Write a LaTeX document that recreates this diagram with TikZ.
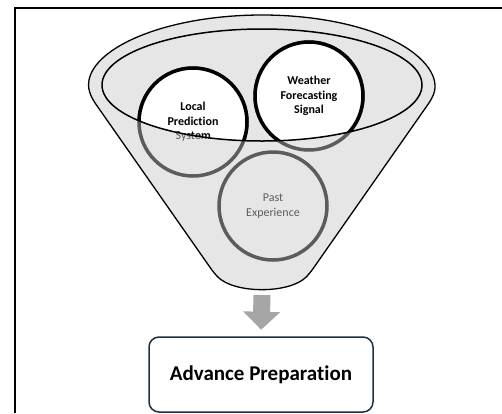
\documentclass[tikz,border=0pt]{standalone}
\usepackage{fontspec}
\setmainfont{Carlito}[Ligatures=NoCommon]
\usepackage{tikz}
\usetikzlibrary{arrows.meta}

\definecolor{funnelgray}{HTML}{E6E6E6}
\definecolor{ringgray}{HTML}{5C5C5C}
\definecolor{arrowgray}{HTML}{A6A6A6}
\definecolor{boxnavy}{HTML}{1F2F40}

\begin{document}
\begin{tikzpicture}[x=1pt, y=-1pt,
  ring/.style={circle, minimum size=108pt, inner sep=0pt, line width=3.5pt,
    align=center, font=\fontsize{12}{14.5}\selectfont},
  outring/.style={ring, draw=ringgray, text=ringgray},
  inring/.style={ring, draw=black, text=black, font=\fontsize{12}{14.5}\selectfont\bfseries},
  prepbox/.style={draw=boxnavy, line width=1.5pt, rounded corners=10pt,
    minimum width=224pt, minimum height=75pt, font=\fontsize{21}{24}\selectfont\bfseries}]
\useasboundingbox (0,0) rectangle (502,413);
\draw[line width=2pt] (15,413) -- (15,8) -- (502,8);

% funnel
\filldraw[fill=funnelgray, line width=1.3pt, rounded corners=5pt]
  (92.6,99.5) arc[start angle=170, end angle=370, x radius=172, y radius=72]
  -- (310,273) .. controls (290,294) and (234,294) .. (214,273) -- cycle;
\fill[funnelgray] (262,85) ellipse[x radius=160, y radius=56];

% the three sources
\foreach \nm/\x/\y/\txt in {lps/193/122/{Local\\Prediction\\System},
                            wfs/309/96/{Weather\\Forecasting\\Signal},
                            pe/273/206/{Past\\Experience}}
  \node[outring] (\nm) at (\x,\y) {\txt};

\begin{scope}
\clip (262,85) ellipse[x radius=160, y radius=56];
\foreach \nm/\txt in {lps/{Local\\Prediction\\System},
                      wfs/{Weather\\Forecasting\\Signal}}
{
  \fill[white] (\nm.center) circle[radius=54];
  \node[inring] (\nm-top) at (\nm.center) {\txt};
}
\end{scope}
\draw[line width=1.5pt] (262,85) ellipse[x radius=160, y radius=56];

\coordinate (spout) at (262,295);
\node[prepbox] (prep) at (261,374.5) {Advance Preparation};
\draw[arrowgray, line width=17pt, -{Triangle[width=36pt, length=18pt]},
  shorten >=6.5pt] (spout) -- (prep.north);
\end{tikzpicture}
\end{document}
